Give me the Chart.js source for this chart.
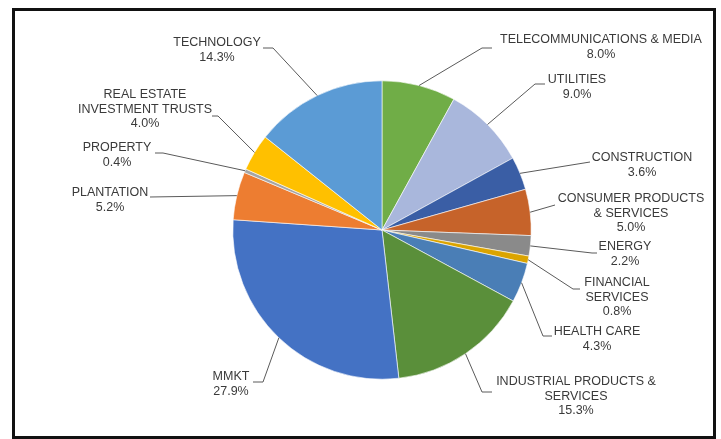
<!DOCTYPE html>
<html>
<head>
<meta charset="utf-8">
<script src="https://cdn.jsdelivr.net/npm/chart.js@4.4.1/dist/chart.umd.min.js"></script>
<style>
  body { margin: 0; background: #fff; overflow: hidden; }
  #wrap { position: relative; width: 721px; height: 439px; }
  #frame {
    position: absolute; left: 12px; top: 8px; width: 698px; height: 425px;
    border: 3px solid #111; pointer-events: none;
  }
</style>
</head>
<body>
<div id="wrap">
  <canvas id="pieChart" width="721" height="439"></canvas>
  <div id="frame"></div>
</div>
<script>
const ctx = document.getElementById("pieChart").getContext("2d");

// sectors, clockwise from 12 o'clock
const categories = [
  ["TELECOMMUNICATIONS & MEDIA"],
  ["UTILITIES"],
  ["CONSTRUCTION"],
  ["CONSUMER PRODUCTS", "& SERVICES"],
  ["ENERGY"],
  ["FINANCIAL", "SERVICES"],
  ["HEALTH CARE"],
  ["INDUSTRIAL PRODUCTS &", "SERVICES"],
  ["MMKT"],
  ["PLANTATION"],
  ["PROPERTY"],
  ["REAL ESTATE", "INVESTMENT TRUSTS"],
  ["TECHNOLOGY"],
];
const weights = [8.0, 9.0, 3.6, 5.0, 2.2, 0.8, 4.3, 15.3, 27.9, 5.2, 0.4, 4.0, 14.3];
const sliceColors = [
  "#70ad47", "#a9b7dc", "#3a5ea5", "#c6632a", "#8a8a8a", "#dba400", "#4a7eb6",
  "#5a8f3a", "#4472c4", "#ed7d31", "#a5a5a5", "#ffc000", "#5b9bd5",
];

// label placement: text centre x, first line y, leader elbow and end
const labelPos = [
  { x: 601, y: 40, elbow: [482, 48], end: [492, 48] },
  { x: 577, y: 80, elbow: [535, 84], end: [545, 84] },
  { x: 642, y: 158, elbow: null, end: [590, 162] },
  { x: 631, y: 199, elbow: null, end: [555, 205] },
  { x: 625, y: 247, elbow: [592, 253], end: [597, 253] },
  { x: 617, y: 283, elbow: [573, 289], end: [580, 289] },
  { x: 597, y: 332, elbow: [543, 336], end: [552, 336] },
  { x: 576, y: 382, elbow: [482, 392], end: [492, 392] },
  { x: 231, y: 377, elbow: [263, 382], end: [253, 382] },
  { x: 110, y: 193, elbow: null, end: [150, 197] },
  { x: 117, y: 148, elbow: [163, 153], end: [155, 153] },
  { x: 145, y: 95, elbow: [218, 116], end: [212, 116] },
  { x: 217, y: 43, elbow: [273, 48], end: [263, 48] },
];

// draws the outside labels with leader lines
const outsideLabels = {
  id: "outsideLabels",
  afterDatasetsDraw(chart) {
    const c = chart.ctx;
    const arcs = chart.getDatasetMeta(0).data;
    c.save();
    c.font = "12.5px 'Liberation Sans', Arial, sans-serif";
    c.fillStyle = "#3a3a3a";
    c.textAlign = "center";
    c.textBaseline = "middle";
    arcs.forEach((arc, i) => {
      const p = labelPos[i];
      const mid = (arc.startAngle + arc.endAngle) / 2;
      const sx = arc.x + Math.cos(mid) * arc.outerRadius;
      const sy = arc.y + Math.sin(mid) * arc.outerRadius;
      c.strokeStyle = "#5a5a5a";
      c.lineWidth = 1;
      c.beginPath();
      c.moveTo(sx, sy);
      if (p.elbow) c.lineTo(p.elbow[0], p.elbow[1]);
      c.lineTo(p.end[0], p.end[1]);
      c.stroke();

      const lines = categories[i].concat([weights[i].toFixed(1) + "%"]);
      lines.forEach((t, k) => c.fillText(t, p.x, p.y + k * 14.5));
    });
    c.restore();
  },
};

new Chart(ctx, {
  type: "pie",
  data: {
    labels: categories.map((l) => l.join(" ")),
    datasets: [
      {
        data: weights,
        backgroundColor: sliceColors,
        borderColor: "#ffffff",
        borderWidth: 0.6,
      },
    ],
  },
  options: {
    responsive: false,
    animation: false,
    layout: {
      padding: { left: 232.5, top: 80.5, right: 189.5, bottom: 59.5 },
    },
    plugins: {
      legend: { display: false },
      tooltip: { enabled: false },
    },
  },
  plugins: [outsideLabels],
});
</script>
</body>
</html>
